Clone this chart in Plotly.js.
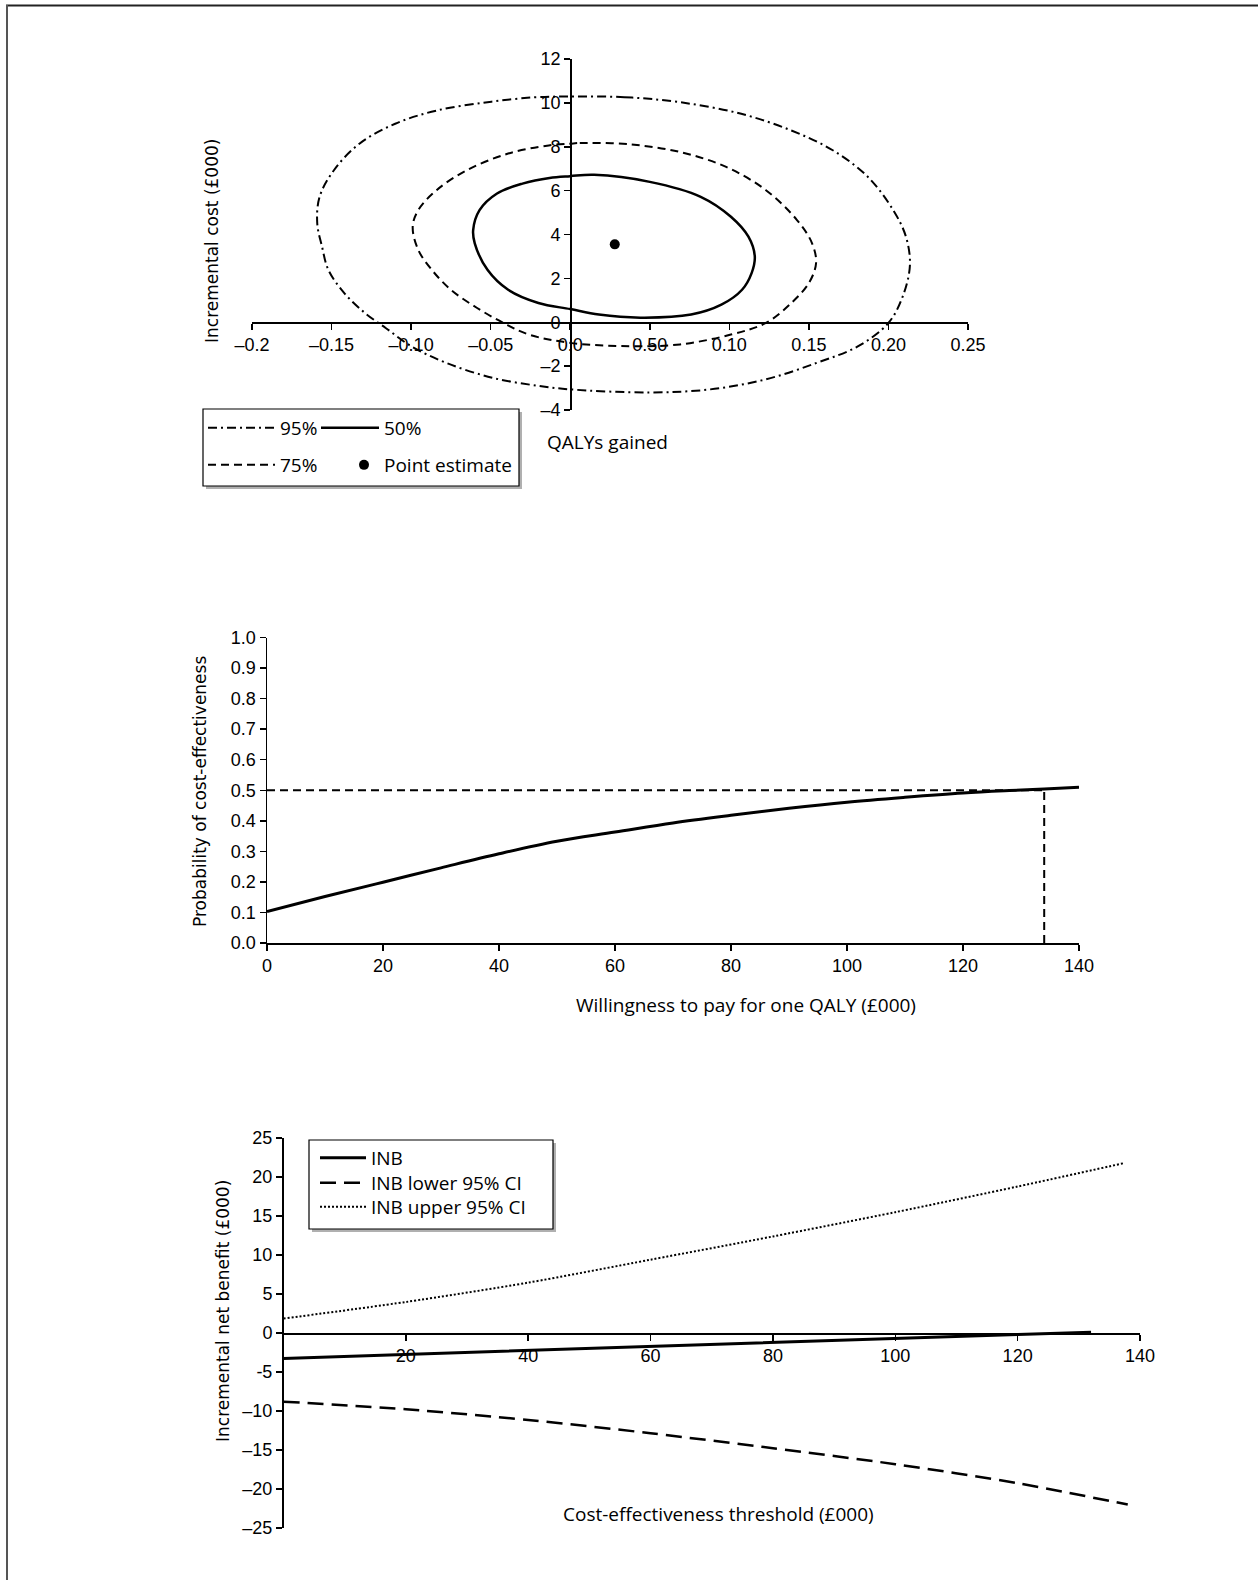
<!DOCTYPE html>
<html>
<head>
<meta charset="utf-8">
<script src="https://cdn.plot.ly/plotly-3.0.1.min.js"></script>
<style>
  html, body { margin: 0; padding: 0; background: #fff; }
  #chart { width: 1258px; height: 1580px; }
</style>
</head>
<body>
<div id="chart"></div>
<script>
// ---------------- DATA ----------------
// Panel 1: cost-effectiveness plane, confidence ellipses (QALYs gained, incremental cost £000)
const ell95_x = [0.0, 0.034, 0.069, 0.1075, 0.139, 0.165, 0.187, 0.203, 0.211, 0.2135, 0.209, 0.2, 0.181, 0.155, 0.123, 0.088, 0.05, 0.0, -0.02, -0.049, -0.078, -0.1, -0.116, -0.129, -0.142, -0.152, -0.156, -0.159, -0.1575, -0.1485, -0.1325, -0.11, -0.084, -0.052, -0.023, 0.0];
const ell95_y = [10.29, 10.26, 10.03, 9.5, 8.74, 7.84, 6.63, 5.11, 3.9, 2.6, 1.18, -0.03, -1.09, -1.85, -2.6, -3.06, -3.2, -3.06, -2.9, -2.53, -1.85, -1.09, -0.26, 0.42, 1.33, 2.39, 3.45, 4.51, 5.72, 6.93, 8.14, 9.05, 9.65, 10.03, 10.25, 10.29];

const ell75_x = [0.0, 0.006, 0.0375, 0.069, 0.098, 0.123, 0.1425, 0.152, 0.1545, 0.150, 0.139, 0.123, 0.101, 0.069, 0.0375, 0.0, -0.026, -0.042, -0.0585, -0.075, -0.087, -0.0955, -0.099, -0.0955, -0.084, -0.065, -0.039, -0.0135, 0.0];
const ell75_y = [8.14, 8.17, 8.11, 7.76, 7.08, 6.02, 4.66, 3.6, 2.69, 1.79, 0.88, -0.03, -0.56, -1.01, -1.09, -0.94, -0.56, -0.03, 0.65, 1.48, 2.39, 3.3, 4.36, 5.11, 6.02, 6.93, 7.69, 8.06, 8.14];

const ell50_x = [0.0, 0.015, 0.05, 0.082, 0.101, 0.112, 0.116, 0.114, 0.108, 0.095, 0.076, 0.044, 0.018, 0.0, -0.02, -0.039, -0.052, -0.06, -0.061, -0.057, -0.046, -0.03, -0.013, 0.0];
const ell50_y = [6.66, 6.72, 6.4, 5.72, 4.81, 3.9, 3.0, 2.24, 1.48, 0.8, 0.35, 0.21, 0.35, 0.6, 0.88, 1.48, 2.39, 3.6, 4.2, 5.11, 5.87, 6.32, 6.58, 6.66];

const pointEst_x = [0.028];
const pointEst_y = [3.55];

const plane_xticks = [-0.2, -0.15, -0.1, -0.05, 0, 0.05, 0.1, 0.15, 0.2, 0.25];
const plane_xlabels = ["\u20130.2", "\u20130.15", "\u20130.10", "\u20130.05", "0.0", "0.50", "0.10", "0.15", "0.20", "0.25"];
const plane_yticks = [-4, -2, 0, 2, 4, 6, 8, 10, 12];
const plane_ylabels = ["\u20134", "\u20132", "0", "2", "4", "6", "8", "10", "12"];

// Panel 2: cost-effectiveness acceptability curve
const wtp  = [0, 10, 20, 30, 40, 50, 60, 70, 80, 90, 100, 110, 120, 128, 134, 140];
const prob = [0.103, 0.152, 0.199, 0.246, 0.292, 0.333, 0.363, 0.393, 0.418, 0.441, 0.461, 0.477, 0.491, 0.499, 0.504, 0.51];
const half_h_x = [0, 134];
const half_h_y = [0.5, 0.5];
const half_v_x = [134, 134];
const half_v_y = [0, 0.5];
const ceac_xticks = [0, 20, 40, 60, 80, 100, 120, 140];
const ceac_yticks = [0, 0.1, 0.2, 0.3, 0.4, 0.5, 0.6, 0.7, 0.8, 0.9, 1.0];
const ceac_ylabels = ["0.0", "0.1", "0.2", "0.3", "0.4", "0.5", "0.6", "0.7", "0.8", "0.9", "1.0"];

// Panel 3: incremental net benefit
const inb_x = [0, 20, 40, 60, 80, 100, 120, 132];
const inb_y = [-3.26, -2.75, -2.2, -1.68, -1.13, -0.7, -0.19, 0.1];
const lower_x = [0, 20, 40, 60, 80, 100, 120, 138];
const lower_y = [-8.8, -9.78, -11.15, -12.85, -14.77, -16.82, -19.25, -22.0];
const upper_x = [0, 20, 40, 60, 80, 100, 120, 137.5];
const upper_y = [1.85, 3.98, 6.46, 9.4, 12.38, 15.49, 18.78, 21.8];
const inb_xticks = [20, 40, 60, 80, 100, 120, 140];
const inb_yticks = [-25, -20, -15, -10, -5, 0, 5, 10, 15, 20, 25];
const inb_ylabels = ["\u201325", "\u201320", "\u201315", "\u201310", "-5", "0", "5", "10", "15", "20", "25"];

// ---------------- LAYOUT HELPERS ----------------
const W = 1258, H = 1580;
const X = p => p / W;
const Y = p => 1 - p / H;
const posAt = (dom, rng, v) => dom[0] + (v - rng[0]) / (rng[1] - rng[0]) * (dom[1] - dom[0]);

const TICKFONT = {family: "Liberation Sans, Arial, sans-serif", size: 18, color: "#000"};
const TXTFONT = {family: "Open Sans, Lato, sans-serif", size: 19, color: "#000"};
const YTFONT = {family: "DejaVu Sans, Verdana, sans-serif", size: 17, color: "#000"};

const axBase = {
  showgrid: false, zeroline: false, showline: true, linecolor: "#000", linewidth: 1.5,
  ticks: "outside", ticklen: 6, tickwidth: 1.5, tickcolor: "#000",
  tickfont: TICKFONT, automargin: false, fixedrange: true, tickmode: "array"
};

const d1x = [X(252), X(968)], d1y = [Y(410), Y(59)];
const r1x = [-0.2, 0.25], r1y = [-4, 12];
const d2x = [X(267), X(1079)], d2y = [Y(943), Y(637.5)];
const r2x = [0, 140], r2y = [0, 1];
const d3x = [X(283.5), X(1140)], d3y = [Y(1528), Y(1138)];
const r3x = [0, 140], r3y = [-25, 25];

const legBase = {bgcolor: "rgba(0,0,0,0)", borderwidth: 0, font: TXTFONT,
                 xanchor: "left", yanchor: "middle", orientation: "v", tracegroupgap: 0};

// ---------------- TRACES ----------------
const traces = [
  {x: ell95_x, y: ell95_y, xaxis: "x", yaxis: "y", mode: "lines", name: "95%",
   line: {color: "#000", width: 2, dash: "9px,4px,2px,4px", shape: "spline", smoothing: 1},
   legend: "legend"},
  {x: ell50_x, y: ell50_y, xaxis: "x", yaxis: "y", mode: "lines", name: "50%",
   line: {color: "#000", width: 2.5, shape: "spline", smoothing: 1}, legend: "legend2"},
  {x: ell75_x, y: ell75_y, xaxis: "x", yaxis: "y", mode: "lines", name: "75%",
   line: {color: "#000", width: 2, dash: "8px,5px", shape: "spline", smoothing: 1}, legend: "legend3"},
  {x: pointEst_x, y: pointEst_y, xaxis: "x", yaxis: "y", mode: "markers", name: "Point estimate",
   marker: {color: "#000", size: 10, symbol: "circle"}, legend: "legend4"},

  {x: wtp, y: prob, xaxis: "x2", yaxis: "y2", mode: "lines", showlegend: false,
   line: {color: "#000", width: 3, shape: "spline", smoothing: 1}},
  {x: half_h_x, y: half_h_y, xaxis: "x2", yaxis: "y2", mode: "lines", showlegend: false,
   line: {color: "#000", width: 2, dash: "8px,5px"}},
  {x: half_v_x, y: half_v_y, xaxis: "x2", yaxis: "y2", mode: "lines", showlegend: false,
   line: {color: "#000", width: 2, dash: "8px,5px"}},

  {x: inb_x, y: inb_y, xaxis: "x3", yaxis: "y3", mode: "lines", name: "INB",
   line: {color: "#000", width: 3}, legend: "legend5"},
  {x: lower_x, y: lower_y, xaxis: "x3", yaxis: "y3", mode: "lines", name: "INB lower 95% CI",
   line: {color: "#000", width: 2.5, dash: "16px,8px", shape: "spline", smoothing: 0.8}, legend: "legend6"},
  {x: upper_x, y: upper_y, xaxis: "x3", yaxis: "y3", mode: "lines", name: "INB upper 95% CI",
   line: {color: "#000", width: 2, dash: "2px,2px", shape: "spline", smoothing: 0.8}, legend: "legend7"}
];

// ---------------- LAYOUT ----------------
const layout = {
  width: W, height: H,
  margin: {l: 0, r: 0, t: 0, b: 0, pad: 0},
  paper_bgcolor: "#fff", plot_bgcolor: "rgba(0,0,0,0)",
  font: TXTFONT,
  showlegend: true,
  xaxis: Object.assign({}, axBase, {domain: d1x, range: r1x, anchor: "free",
         position: posAt(d1y, r1y, 0), tickvals: plane_xticks, ticktext: plane_xlabels}),
  yaxis: Object.assign({}, axBase, {domain: d1y, range: r1y, anchor: "free",
         position: posAt(d1x, r1x, 0), tickvals: plane_yticks, ticktext: plane_ylabels}),
  xaxis2: Object.assign({}, axBase, {domain: d2x, range: r2x, anchor: "y2",
         tickvals: ceac_xticks, ticktext: ceac_xticks.map(String)}),
  yaxis2: Object.assign({}, axBase, {domain: d2y, range: r2y, anchor: "x2",
         tickvals: ceac_yticks, ticktext: ceac_ylabels}),
  xaxis3: Object.assign({}, axBase, {domain: d3x, range: r3x, anchor: "free",
         position: posAt(d3y, r3y, 0), tickvals: inb_xticks, ticktext: inb_xticks.map(String)}),
  yaxis3: Object.assign({}, axBase, {domain: d3y, range: r3y, anchor: "x3",
         tickvals: inb_yticks, ticktext: inb_ylabels}),

  legend:  Object.assign({}, legBase, {x: X(203), y: Y(428), itemwidth: 67}),
  legend2: Object.assign({}, legBase, {x: X(316), y: Y(428), itemwidth: 58}),
  legend3: Object.assign({}, legBase, {x: X(203), y: Y(465), itemwidth: 67}),
  legend4: Object.assign({}, legBase, {x: X(344), y: Y(465), itemwidth: 30}),
  legend5: Object.assign({}, legBase, {x: X(315), y: Y(1158), itemwidth: 46}),
  legend6: Object.assign({}, legBase, {x: X(315), y: Y(1183), itemwidth: 46}),
  legend7: Object.assign({}, legBase, {x: X(315), y: Y(1207), itemwidth: 46}),

  shapes: [
    // outer frame
    {type: "line", xref: "paper", yref: "paper", x0: X(6), x1: 1, y0: Y(5.5), y1: Y(5.5),
     line: {color: "#222", width: 2}},
    {type: "line", xref: "paper", yref: "paper", x0: X(7), x1: X(7), y0: Y(5), y1: 0,
     line: {color: "#555", width: 2}},
    // legend 1 box + shadow
    {type: "rect", xref: "paper", yref: "paper", layer: "below", x0: X(206), x1: X(522), y0: Y(412), y1: Y(489),
     fillcolor: "#b0b0b0", line: {width: 0}},
    {type: "rect", xref: "paper", yref: "paper", layer: "below", x0: X(203), x1: X(519), y0: Y(409), y1: Y(486),
     fillcolor: "#fff", line: {color: "#000", width: 1.2}},
    // legend 3 box + shadow
    {type: "rect", xref: "paper", yref: "paper", layer: "below", x0: X(312), x1: X(556), y0: Y(1143), y1: Y(1232),
     fillcolor: "#b0b0b0", line: {width: 0}},
    {type: "rect", xref: "paper", yref: "paper", layer: "below", x0: X(309), x1: X(553), y0: Y(1140), y1: Y(1229),
     fillcolor: "#fff", line: {color: "#000", width: 1.2}}
  ],

  annotations: [
    {text: "Incremental cost (£000)", xref: "paper", yref: "paper", x: X(212), y: Y(241),
     textangle: -90, showarrow: false, xanchor: "center", yanchor: "middle", font: YTFONT},
    {text: "QALYs gained", xref: "paper", yref: "paper", x: X(607), y: Y(442),
     showarrow: false, xanchor: "center", yanchor: "middle", font: TXTFONT},
    {text: "Probability of cost-effectiveness", xref: "paper", yref: "paper", x: X(200), y: Y(792),
     textangle: -90, showarrow: false, xanchor: "center", yanchor: "middle", font: YTFONT},
    {text: "Willingness to pay for one QALY (£000)", xref: "paper", yref: "paper", x: X(746), y: Y(1005),
     showarrow: false, xanchor: "center", yanchor: "middle", font: TXTFONT},
    {text: "Incremental net benefit (£000)", xref: "paper", yref: "paper", x: X(223), y: Y(1311),
     textangle: -90, showarrow: false, xanchor: "center", yanchor: "middle", font: YTFONT},
    {text: "Cost-effectiveness threshold (£000)", xref: "paper", yref: "paper", x: X(718), y: Y(1514),
     showarrow: false, xanchor: "center", yanchor: "middle", font: TXTFONT}
  ]
};

Plotly.newPlot("chart", traces, layout, {staticPlot: true, displayModeBar: false});
</script>
</body>
</html>
